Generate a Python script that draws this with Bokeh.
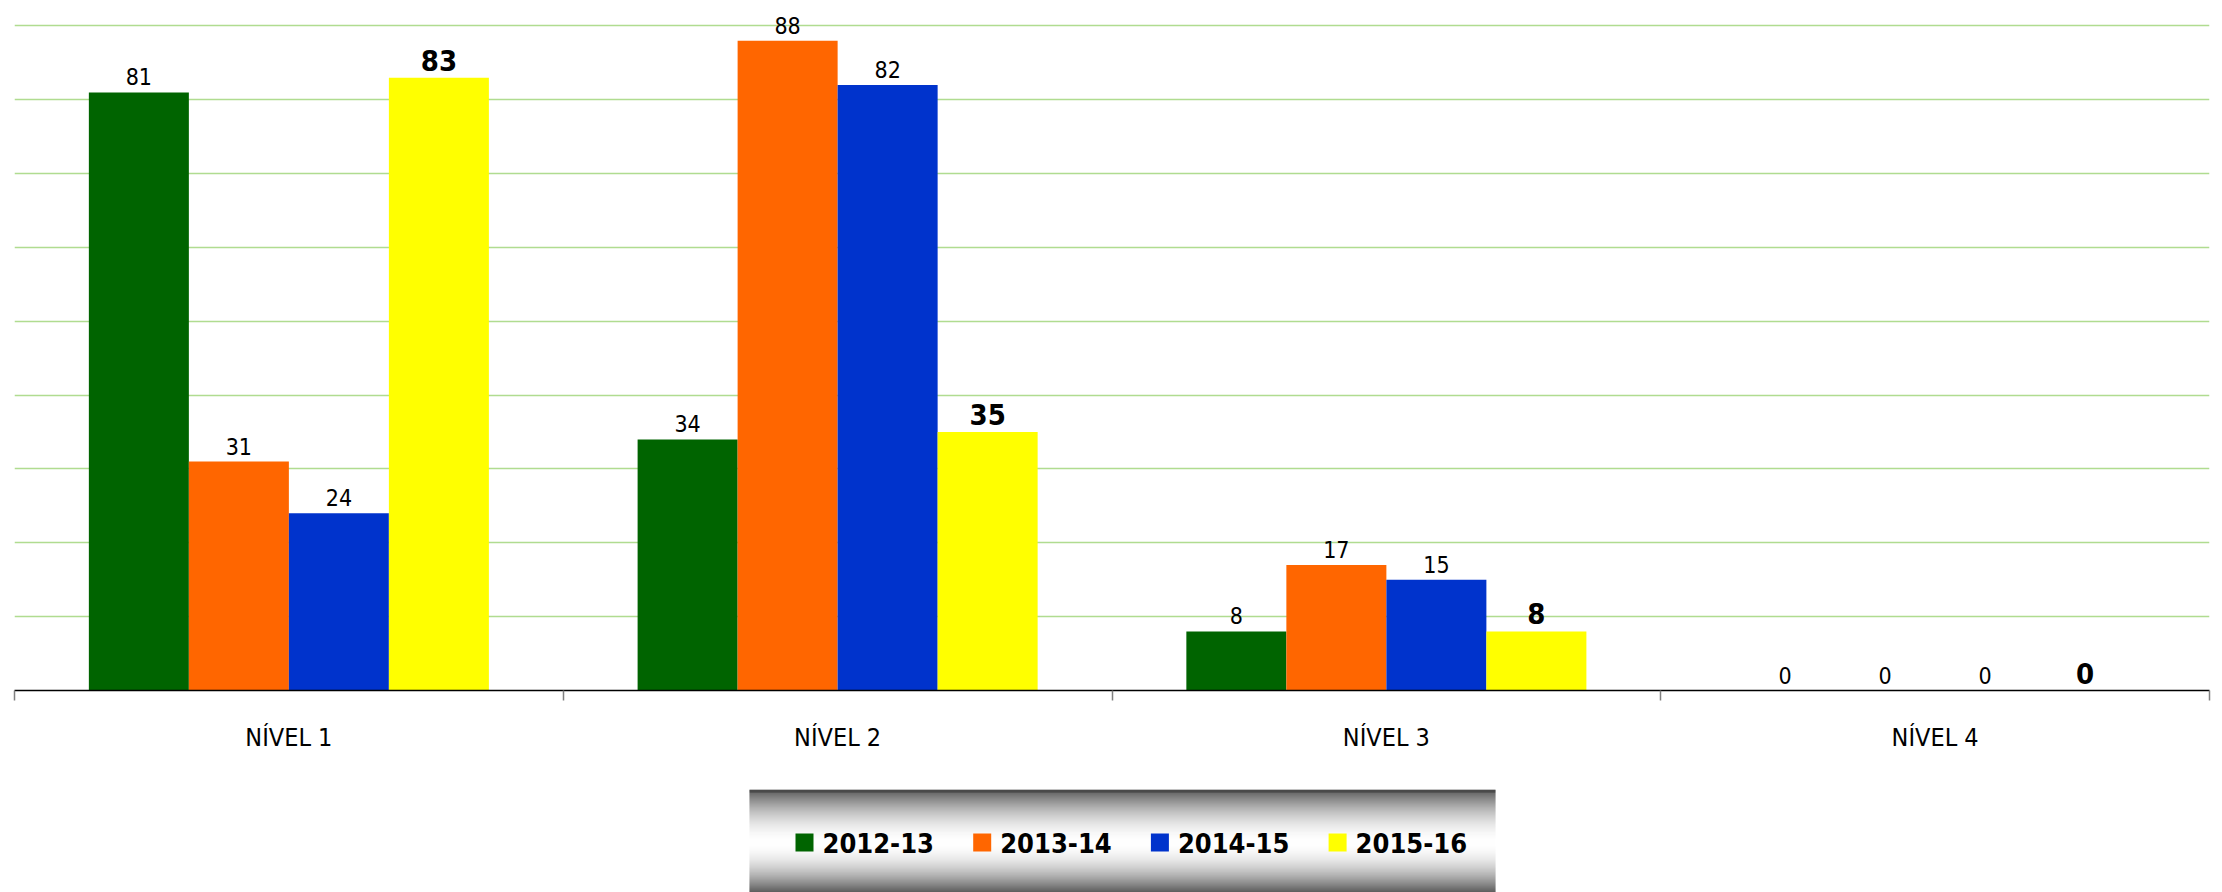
import numpy as np
from bokeh.plotting import figure
from bokeh.models import (ColumnDataSource, Range1d, LinearAxis,
                          FixedTicker, Grid)
from bokeh.transform import dodge
from bokeh.layouts import column
from bokeh.core.properties import value
from bokeh.embed import file_html
from bokeh.resources import INLINE

# ---------------- data ----------------
categories = ["NÍVEL 1", "NÍVEL 2", "NÍVEL 3", "NÍVEL 4"]
series = ["2012-13", "2013-14", "2014-15", "2015-16"]
v_2012_13 = [81, 34, 8, 0]
v_2013_14 = [31, 88, 17, 0]
v_2014_15 = [24, 82, 15, 0]
v_2015_16 = [83, 35, 8, 0]
colors = ["#006400", "#ff6600", "#0033cc", "#ffff00"]
grid_values = [10, 20, 30, 40, 50, 60, 70, 80, 90]

values = [v_2012_13, v_2013_14, v_2014_15, v_2015_16]
FONT = "DejaVu Sans Condensed, Roboto"

ncat = len(categories)
centers = [i + 0.5 for i in range(ncat)]

# ---------------- main chart ----------------
p = figure(width=2222, height=778,
           x_range=Range1d(0, ncat),
           y_range=Range1d(0, 92.37),
           output_backend="svg", toolbar_location=None,
           x_axis_location=None, y_axis_location=None,
           min_border_left=14, min_border_right=13,
           min_border_top=8, min_border_bottom=88,
           outline_line_color=None, background_fill_color="white")
p.center = []

grid = Grid(dimension=1, ticker=FixedTicker(ticks=grid_values, minor_ticks=[]),
            grid_line_color="#b0dc90", grid_line_width=1.4)
p.add_layout(grid)

n = len(series)
group = 0.729
bw = group / n
for i, (name, vals, col) in enumerate(zip(series, values, colors)):
    off = -group / 2 + bw * (i + 0.5)
    src = ColumnDataSource(dict(cx=centers, val=vals,
                                lab=[str(v) for v in vals]))
    p.vbar(x=dodge("cx", off), top="val", width=bw,
           bottom=0, source=src, fill_color=col, line_color=None)
    big = (i == n - 1)
    p.text(x=dodge("cx", off), y="val", text="lab",
           source=src, text_align="center", text_baseline="bottom",
           y_offset=-7, text_color="black",
           text_font=value(FONT),
           text_font_size=value("29px" if big else "23px"),
           text_font_style="bold" if big else "normal")

cat_axis = LinearAxis(ticker=FixedTicker(ticks=centers,
                                         minor_ticks=list(range(ncat + 1))),
                      major_label_overrides={c: lab for c, lab in zip(centers, categories)},
                      axis_line_color="black", axis_line_width=1.5,
                      major_tick_line_color=None,
                      major_tick_out=0, major_tick_in=0,
                      minor_tick_in=0, minor_tick_out=10,
                      minor_tick_line_color="#808080",
                      minor_tick_line_width=1.5,
                      major_label_text_font=FONT,
                      major_label_text_font_size="25px",
                      major_label_text_color="black",
                      major_label_standoff=22)
p.add_layout(cat_axis, "below")

# ---------------- legend box (gradient) ----------------
L_X0, L_W, L_H = 735, 746, 103
CANVAS_W = 1560
lg = figure(frame_width=CANVAS_W, frame_height=L_H,
            x_range=Range1d(-L_X0, CANVAS_W - L_X0),
            y_range=Range1d(0, L_H), output_backend="svg",
            toolbar_location=None, x_axis_location=None,
            y_axis_location=None, min_border=0,
            min_border_left=0, min_border_right=0,
            min_border_top=0, min_border_bottom=0,
            outline_line_color=None, background_fill_color="white",
            border_fill_color="white",
            margin=(11, 0, 0, 0))
lg.center = []

rows_y, rows_c = [], []
center = 53.0
for r in range(L_H):
    d_top = L_H - r - 0.5  # distance from top edge in pixels
    if d_top < center:
        t = (center - d_top) / center
    else:
        t = (d_top - center) / 50.0
    t = min(t, 1.0)
    inten = int(255 - 220 * t ** 1.8)
    if d_top < 3:
        inten = 15
    rows_y.append(r + 0.5)
    rows_c.append("#%02x%02x%02x" % (inten, inten, inten))
gsrc = ColumnDataSource(dict(y=rows_y, c=rows_c))
lg.hbar(y="y", height=1.02, left=0, right=L_W, fill_color="c",
        line_color=None, source=gsrc)

step = 177.7
sq = 18
ycen = L_H - 53
lx = [46 + sq / 2 + i * step for i in range(n)]
tx = [46 + sq + 9 + i * step for i in range(n)]
lsrc = ColumnDataSource(dict(x=lx, tx=tx, y=[ycen] * n, c=colors, t=series))
lg.rect(x="x", y="y", width=sq, height=sq, fill_color="c", line_color=None,
        source=lsrc)
lg.text(x="tx", y="y", text="t", source=lsrc, text_align="left",
        text_baseline="middle", text_color="black",
        text_font=value(FONT), text_font_size=value("27px"),
        text_font_style="bold")

layout = column(p, lg, spacing=0)
open("out.html", "w").write(file_html(layout, INLINE))
